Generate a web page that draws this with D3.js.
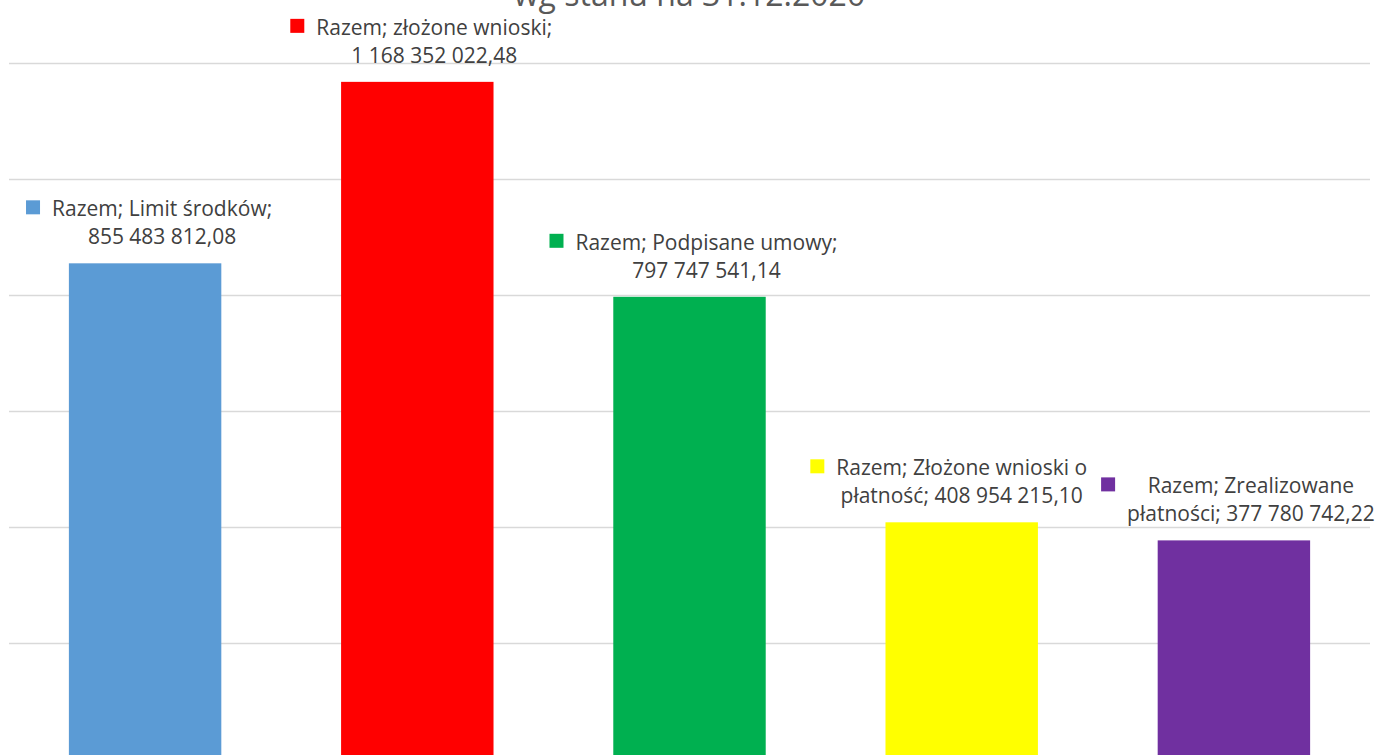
<!DOCTYPE html>
<html>
<head>
<meta charset="utf-8">
<script src="https://cdn.jsdelivr.net/npm/d3@7"></script>
<style>
  body { margin: 0; background: #fff; }
  svg { display: block; font-family: "Open Sans", sans-serif; }
</style>
</head>
<body>
<script>
// dane
const series = "Razem";
const categories = ["Limit środków", "złożone wnioski", "Podpisane umowy", "Złożone wnioski o płatność", "Zrealizowane płatności"];
const values = [855483812.08, 1168352022.48, 797747541.14, 408954215.10, 377780742.22];
const colors = ["#5B9BD5", "#FF0000", "#00B050", "#FFFF00", "#7030A0"];
const yTicks = [0, 200000000, 400000000, 600000000, 800000000, 1000000000, 1200000000];
const title = "wg stanu na 31.12.2020";

function main() {
    const width = 1381, height = 755;
    const plot = {left: 9, right: 1370, top: 63.5, bottom: 759.5};

    // liczby po polsku, spacja niełamiąca w tysiącach
    const pl = d3.formatLocale({decimal: ",", thousands: "\u00a0", grouping: [3], currency: ["", ""]});
    const fmt = pl.format(",.2f");

    const svg = d3.select("body").append("svg")
        .attr("width", width)
        .attr("height", height);

    const x = d3.scaleBand()
        .domain(categories)
        .range([plot.left, plot.right])
        .paddingInner(0.44)
        .paddingOuter(0.22);

    const y = d3.scaleLinear()
        .domain([0, 1200000000])
        .range([plot.bottom, plot.top]);

    // siatka
    svg.append("g")
        .selectAll("line")
        .data(yTicks.slice(1))
        .join("line")
        .attr("x1", plot.left)
        .attr("x2", plot.right)
        .attr("y1", d => y(d))
        .attr("y2", d => y(d))
        .attr("stroke", "#d9d9d9")
        .attr("stroke-width", 1.5);

    const data = categories.map((c, i) => ({cat: c, value: values[i], color: colors[i], i: i}));

    svg.append("g")
        .selectAll("rect")
        .data(data)
        .join("rect")
        .attr("x", d => x(d.cat))
        .attr("y", d => y(d.value))
        .attr("width", x.bandwidth())
        .attr("height", d => y(0) - y(d.value))
        .attr("fill", d => d.color);

    // etykiety danych z kluczem legendy
    const shift = [17, 17, 17, 0, 17];
    const maxW = 268;
    const lineH = 28;

    const labels = svg.append("g")
        .attr("fill", "#404040")
        .attr("font-size", 21);

    data.forEach(d => {
        const words = `${series}; ${d.cat}; ${fmt(d.value)}`.split(" ");
        const g = labels.append("g");
        const probe = g.append("text").attr("visibility", "hidden");
        const lines = [];
        let cur = [];
        words.forEach(w => {
            const test = cur.concat([w]).join(" ");
            probe.text(test);
            if (probe.node().getComputedTextLength() > maxW && cur.length) {
                lines.push(cur.join(" "));
                cur = [w];
            } else cur.push(w);
        });
        lines.push(cur.join(" "));
        probe.remove();

        const cx = x(d.cat) + x.bandwidth() / 2 + shift[d.i];
        const base2 = y(d.value) - 19;
        let widest = 0;
        lines.forEach((ln, k) => {
            const t = g.append("text")
                .attr("x", cx)
                .attr("y", base2 - (lines.length - 1 - k) * lineH)
                .attr("text-anchor", "middle")
                .text(ln);
            widest = Math.max(widest, t.node().getComputedTextLength());
        });
        const base1 = base2 - (lines.length - 1) * lineH;
        g.append("rect")
            .attr("x", cx - widest / 2 - 26)
            .attr("y", base1 - 16)
            .attr("width", 14)
            .attr("height", 14)
            .attr("fill", d.color);
    });

    svg.append("text")
        .attr("x", (plot.left + plot.right) / 2)
        .attr("y", 6)
        .attr("text-anchor", "middle")
        .attr("fill", "#595959")
        .attr("font-size", 32)
        .text(title);
}

main();
</script>
</body>
</html>
